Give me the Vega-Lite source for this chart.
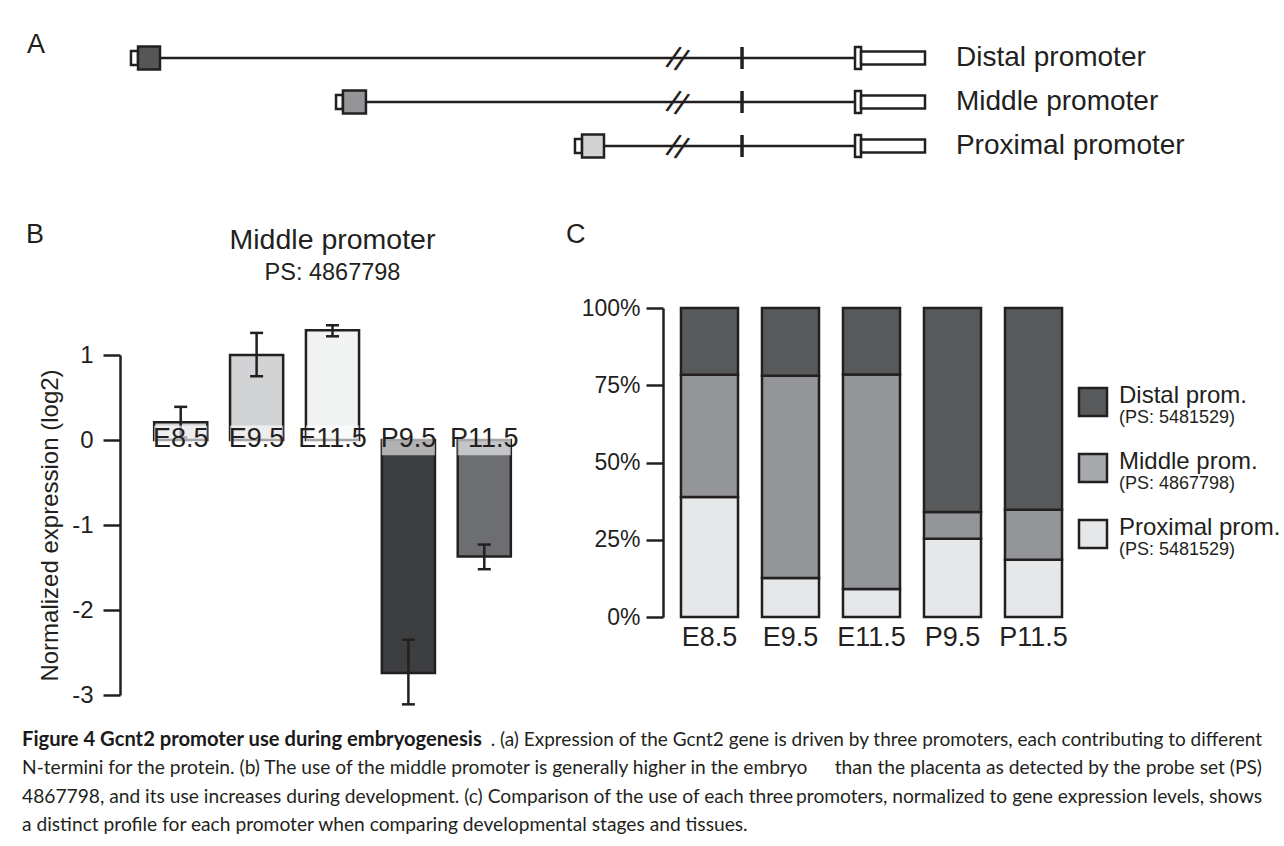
{
  "$schema": "https://vega.github.io/schema/vega-lite/v6.json",
  "padding": 0,
  "background": "white",
  "bounds": "flush",
  "spacing": 30,
  "resolve": {"scale": {"fill": "independent"}},
  "config": {
    "view": {"stroke": null},
    "font": "Liberation Sans",
    "axis": {"labelFont": "Liberation Sans", "titleFont": "Liberation Sans", "grid": false},
    "title": {"font": "Liberation Sans", "subtitleFont": "Liberation Sans", "fontWeight": "normal", "color": "#231f20", "subtitleColor": "#231f20"}
  },
  "vconcat": [
    {
      "width": 1284,
      "height": 278,
      "resolve": {"scale": {"x": "independent", "y": "independent", "fill": "independent"}},
      "layer": [
        {
          "data": {"values": [
            {"promoter": "Distal promoter", "key": "Distal", "start": 10.2, "exonStart": 10.75, "exonEnd": 12.46},
            {"promoter": "Middle promoter", "key": "Middle", "start": 26.17, "exonStart": 26.71, "exonEnd": 28.5},
            {"promoter": "Proximal promoter", "key": "Proximal", "start": 44.78, "exonStart": 45.33, "exonEnd": 47.04}
          ]},
          "encoding": {
            "y": {"field": "promoter", "type": "nominal", "sort": null, "scale": {"range": [36, 168], "padding": 0}, "axis": null}
          },
          "layer": [
            {
              "mark": {"type": "rule", "color": "#231f20", "strokeWidth": 2.5},
              "encoding": {
                "x": {"field": "exonEnd", "type": "quantitative", "scale": {"domain": [0, 100]}, "axis": null},
                "x2": {"datum": 66.59}
              }
            },
            {
              "mark": {"type": "text", "text": "//", "fontSize": 32, "angle": 20, "color": "#231f20", "baseline": "middle", "align": "center", "dy": 2},
              "encoding": {"x": {"datum": 52.8, "type": "quantitative"}}
            },
            {
              "mark": {"type": "tick", "orient": "vertical", "size": 22, "thickness": 3.5, "color": "#231f20", "opacity": 1},
              "encoding": {"x": {"datum": 57.79, "type": "quantitative"}}
            },
            {
              "mark": {"type": "bar", "height": 14, "fill": "white", "stroke": "#231f20", "strokeWidth": 2.5},
              "encoding": {"x": {"field": "start", "type": "quantitative"}, "x2": {"field": "exonStart"}}
            },
            {
              "mark": {"type": "bar", "height": 23, "stroke": "#231f20", "strokeWidth": 2.5, "opacity": 1},
              "encoding": {
                "x": {"field": "exonStart", "type": "quantitative"},
                "x2": {"field": "exonEnd"},
                "fill": {"field": "key", "type": "nominal", "scale": {"domain": ["Distal", "Middle", "Proximal"], "range": ["#555658", "#939598", "#d1d3d4"]}, "legend": null}
              }
            },
            {
              "mark": {"type": "bar", "height": 22, "fill": "white", "stroke": "#231f20", "strokeWidth": 2.5},
              "encoding": {"x": {"datum": 66.59, "type": "quantitative"}, "x2": {"datum": 67.06}}
            },
            {
              "mark": {"type": "bar", "height": 13, "fill": "white", "stroke": "#231f20", "strokeWidth": 2.5},
              "encoding": {"x": {"datum": 67.06, "type": "quantitative"}, "x2": {"datum": 72.04}}
            },
            {
              "mark": {"type": "text", "align": "left", "baseline": "middle", "fontSize": 28, "color": "#231f20"},
              "encoding": {"x": {"datum": 74.45, "type": "quantitative"}, "text": {"field": "promoter"}}
            },
            {
              "data": {"values": [{"panel": "A"}]},
              "mark": {"type": "text", "align": "left", "baseline": "alphabetic", "fontSize": 27, "color": "#231f20", "dy": -5},
              "encoding": {
                "x": {"datum": 2.1, "type": "quantitative"},
                "y": {"datum": "Distal promoter"},
                "text": {"field": "panel"}
              }
            }
          ]
        },
        {
          "data": {"values": [
            {"line": 1, "part": "bold", "text": "Figure 4 Gcnt2 promoter use during embryogenesis"},
            {"line": 1, "part": "right1", "text": ". (a) Expression of the Gcnt2 gene is driven by three promoters, each contributing to different"},
            {"line": 2, "part": "left", "text": "N-termini for the protein. (b) The use of the middle promoter is generally higher in the embryo"},
            {"line": 2, "part": "right", "text": "than the placenta as detected by the probe set (PS)"},
            {"line": 3, "part": "left", "text": "4867798, and its use increases during development. (c) Comparison of the use of each three"},
            {"line": 3, "part": "right", "text": "promoters, normalized to gene expression levels, shows"},
            {"line": 4, "part": "left", "text": "a distinct profile for each promoter when comparing developmental stages and tissues."}
          ]},
          "encoding": {
            "y": {"field": "line", "type": "ordinal", "scale": {"range": [740, 825], "padding": 0}, "axis": null}
          },
          "layer": [
            {
              "transform": [{"filter": "datum.part == 'bold'"}],
              "mark": {"type": "text", "align": "left", "baseline": "middle", "font": "Lato", "fontSize": 20.2, "fontWeight": "bold", "color": "#1a1a1a"},
              "encoding": {
                "x": {"datum": 0, "type": "quantitative", "scale": {"domain": [0, 1], "range": [22, 1262]}, "axis": null},
                "text": {"field": "text"}
              }
            },
            {
              "transform": [{"filter": "datum.part == 'right1'"}],
              "mark": {"type": "text", "align": "right", "baseline": "middle", "font": "Lato", "fontSize": 19, "color": "#231f20"},
              "encoding": {"x": {"datum": 1, "type": "quantitative"}, "text": {"field": "text"}}
            },
            {
              "transform": [{"filter": "datum.part == 'left'"}],
              "mark": {"type": "text", "align": "left", "baseline": "middle", "font": "Lato", "fontSize": 19.2, "color": "#231f20"},
              "encoding": {"x": {"datum": 0, "type": "quantitative"}, "text": {"field": "text"}}
            },
            {
              "transform": [{"filter": "datum.part == 'right'"}],
              "mark": {"type": "text", "align": "right", "baseline": "middle", "font": "Lato", "fontSize": 19.2, "color": "#231f20"},
              "encoding": {"x": {"datum": 1, "type": "quantitative"}, "text": {"field": "text"}}
            }
          ]
        }
      ]
    },
    {
      "bounds": "flush",
      "spacing": 118,
      "resolve": {"scale": {"fill": "independent"}},
      "hconcat": [
        {
          "width": 2,
          "height": 1,
          "data": {"values": []},
          "mark": "point",
          "title": {"text": "B", "anchor": "start", "frame": "group", "dx": 26, "offset": 38, "baseline": "alphabetic", "fontSize": 27}
        },
        {
          "width": 425,
          "height": 387,
          "title": {"text": "Middle promoter", "subtitle": "PS: 4867798", "anchor": "middle", "frame": "group", "fontSize": 28.5, "subtitleFontSize": 23.5, "offset": 24, "subtitlePadding": 6},
          "data": {"values": [
            {"stage": "E8.5", "value": 0.21, "lo": 0.03, "hi": 0.39},
            {"stage": "E9.5", "value": 1.0, "lo": 0.75, "hi": 1.26},
            {"stage": "E11.5", "value": 1.29, "lo": 1.22, "hi": 1.35},
            {"stage": "P9.5", "value": -2.74, "lo": -3.11, "hi": -2.35},
            {"stage": "P11.5", "value": -1.37, "lo": -1.52, "hi": -1.23}
          ]},
          "encoding": {
            "x": {"field": "stage", "type": "nominal", "sort": null, "scale": {"paddingInner": 0.3, "paddingOuter": 0.45}, "axis": null}
          },
          "layer": [
            {
              "mark": {"type": "bar", "stroke": "#231f20", "strokeWidth": 2.5},
              "encoding": {
                "y": {
                  "field": "value", "type": "quantitative",
                  "scale": {"domain": [-3, 1], "range": [387, 47], "nice": false, "zero": false},
                  "axis": {"values": [1, 0, -1, -2, -3], "labelExpr": "'' + datum.value", "domain": true, "domainWidth": 2.5, "domainColor": "#231f20", "tickSize": 17, "tickWidth": 2.5, "tickColor": "#231f20", "labelFontSize": 24, "labelColor": "#231f20", "labelPadding": 10, "title": "Normalized expression (log2)", "titleFontSize": 24, "titleFontWeight": "normal", "titleColor": "#231f20", "titlePadding": 9, "titleY": 217}
                },
                "fill": {"field": "stage", "type": "nominal", "scale": {"domain": ["E8.5", "E9.5", "E11.5", "P9.5", "P11.5"], "range": ["#d1d3d4", "#d1d3d4", "#f1f2f2", "#3d3e40", "#6d6e71"]}, "legend": null}
              }
            },
            {
              "mark": {"type": "rule", "color": "#231f20", "strokeWidth": 2.5},
              "encoding": {"y": {"field": "lo", "type": "quantitative"}, "y2": {"field": "hi"}}
            },
            {
              "mark": {"type": "tick", "orient": "horizontal", "size": 13, "thickness": 2.5, "color": "#231f20", "opacity": 1},
              "encoding": {"y": {"field": "lo", "type": "quantitative"}}
            },
            {
              "mark": {"type": "tick", "orient": "horizontal", "size": 13, "thickness": 2.5, "color": "#231f20", "opacity": 1},
              "encoding": {"y": {"field": "hi", "type": "quantitative"}}
            },
            {
              "mark": {"type": "bar", "fill": "white", "opacity": 0.6},
              "encoding": {"y": {"datum": 0.17, "type": "quantitative"}, "y2": {"datum": -0.18}}
            },
            {
              "mark": {"type": "text", "fontSize": 27, "baseline": "middle", "color": "#231f20", "dy": -1},
              "encoding": {"y": {"datum": 0, "type": "quantitative"}, "text": {"field": "stage"}}
            }
          ]
        },
        {
          "bounds": "flush",
          "spacing": 0,
          "resolve": {"scale": {"fill": "independent"}},
          "hconcat": [
            {
              "width": 417,
              "height": 309,
              "title": {"text": "C", "anchor": "start", "frame": "group", "dx": -97, "offset": 27, "baseline": "alphabetic", "fontSize": 27},
              "data": {"values": [
                {"stage": "E8.5", "promoter": "Proximal", "pct": 38.8},
                {"stage": "E8.5", "promoter": "Middle", "pct": 39.6},
                {"stage": "E8.5", "promoter": "Distal", "pct": 21.6},
                {"stage": "E9.5", "promoter": "Proximal", "pct": 12.6},
                {"stage": "E9.5", "promoter": "Middle", "pct": 65.5},
                {"stage": "E9.5", "promoter": "Distal", "pct": 21.9},
                {"stage": "E11.5", "promoter": "Proximal", "pct": 9.1},
                {"stage": "E11.5", "promoter": "Middle", "pct": 69.4},
                {"stage": "E11.5", "promoter": "Distal", "pct": 21.5},
                {"stage": "P9.5", "promoter": "Proximal", "pct": 25.3},
                {"stage": "P9.5", "promoter": "Middle", "pct": 8.7},
                {"stage": "P9.5", "promoter": "Distal", "pct": 66.0},
                {"stage": "P11.5", "promoter": "Proximal", "pct": 18.5},
                {"stage": "P11.5", "promoter": "Middle", "pct": 16.2},
                {"stage": "P11.5", "promoter": "Distal", "pct": 65.3}
              ]},
              "mark": {"type": "bar", "stroke": "#231f20", "strokeWidth": 2.5},
              "encoding": {
                "x": {"field": "stage", "type": "nominal", "sort": null, "scale": {"paddingInner": 0.296, "paddingOuter": 0.222}, "axis": {"title": null, "labelAngle": 0, "domain": false, "ticks": false, "tickSize": 0, "labelFontSize": 27, "labelPadding": 7, "labelColor": "#231f20"}},
                "y": {"field": "pct", "type": "quantitative", "stack": "zero", "scale": {"domain": [0, 100], "nice": false}, "axis": {"values": [0, 25, 50, 75, 100], "labelExpr": "datum.value + '%'", "title": null, "domainWidth": 2.5, "domainColor": "#231f20", "tickSize": 17, "tickWidth": 2.5, "tickColor": "#231f20", "labelFontSize": 23, "labelColor": "#231f20", "labelPadding": 6}},
                "fill": {"field": "promoter", "type": "nominal", "scale": {"domain": ["Distal", "Middle", "Proximal"], "range": ["#58595b", "#939598", "#e6e7e8"]}, "legend": null},
                "order": {"field": "promoter", "sort": "descending"}
              }
            },
            {
              "width": 204,
              "height": 318,
              "data": {"values": [
                {"promoter": "Distal", "label": "Distal prom.", "ps": "(PS: 5481529)"},
                {"promoter": "Middle", "label": "Middle prom.", "ps": "(PS: 4867798)"},
                {"promoter": "Proximal", "label": "Proximal prom.", "ps": "(PS: 5481529)"}
              ]},
              "encoding": {
                "y": {"field": "promoter", "type": "nominal", "sort": null, "scale": {"range": [94, 226], "padding": 0}, "axis": null}
              },
              "layer": [
                {
                  "mark": {"type": "square", "size": 784, "filled": true, "stroke": "#231f20", "strokeWidth": 2.5, "opacity": 1},
                  "encoding": {
                    "x": {"datum": 0, "type": "quantitative", "scale": {"domain": [0, 1], "range": [13, 39]}, "axis": null},
                    "fill": {"field": "promoter", "type": "nominal", "scale": {"domain": ["Distal", "Middle", "Proximal"], "range": ["#58595b", "#a7a9ac", "#e6e7e8"]}, "legend": null}
                  }
                },
                {
                  "mark": {"type": "text", "align": "left", "baseline": "alphabetic", "dy": 1, "fontSize": 24, "color": "#231f20"},
                  "encoding": {"x": {"datum": 1, "type": "quantitative"}, "text": {"field": "label"}}
                },
                {
                  "mark": {"type": "text", "align": "left", "baseline": "alphabetic", "dy": 21, "fontSize": 18, "color": "#231f20"},
                  "encoding": {"x": {"datum": 1, "type": "quantitative"}, "text": {"field": "ps"}}
                }
              ]
            }
          ]
        }
      ]
    }
  ]
}
